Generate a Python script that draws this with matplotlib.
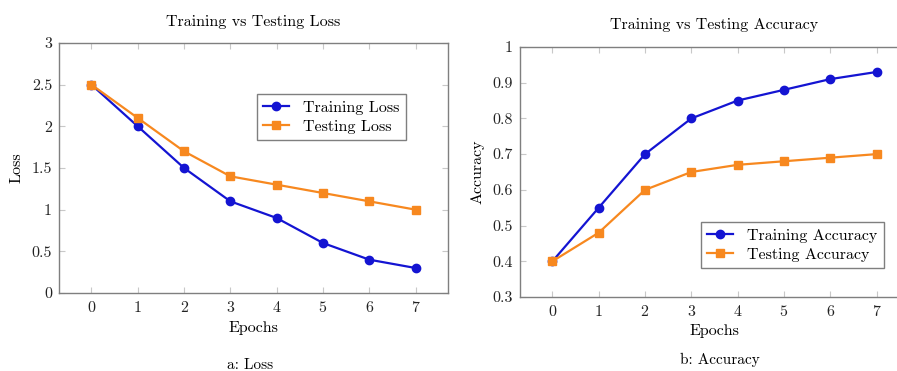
import matplotlib
matplotlib.use("Agg")
import matplotlib.pyplot as plt

epochs = [0, 1, 2, 3, 4, 5, 6, 7]
train_loss = [2.5, 2.0, 1.5, 1.1, 0.9, 0.6, 0.4, 0.3]
test_loss = [2.5, 2.1, 1.7, 1.4, 1.3, 1.2, 1.1, 1.0]
train_acc = [0.40, 0.55, 0.70, 0.80, 0.85, 0.88, 0.91, 0.93]
test_acc = [0.40, 0.48, 0.60, 0.65, 0.67, 0.68, 0.69, 0.70]

loss_ticks = [0, 0.5, 1, 1.5, 2, 2.5, 3]
loss_ticklabels = ["0", "0.5", "1", "1.5", "2", "2.5", "3"]
acc_ticks = [0.3, 0.4, 0.5, 0.6, 0.7, 0.8, 0.9, 1.0]
acc_ticklabels = ["0.3", "0.4", "0.5", "0.6", "0.7", "0.8", "0.9", "1"]

BLUE = "#1414d2"
ORANGE = "#f7881f"

plt.rcParams["font.family"] = ["cmr10", "DejaVu Serif"]
plt.rcParams["axes.formatter.use_mathtext"] = True
plt.rcParams["font.size"] = 11.5

fig = plt.figure(figsize=(8.97, 3.71), dpi=100)
ax1 = fig.add_axes([0.0658, 0.2102, 0.4337, 0.6739])
ax2 = fig.add_axes([0.5797, 0.1995, 0.4337, 0.6739])


def style_axes(ax):
    for s in ax.spines.values():
        s.set_color("#7f7f7f")
        s.set_linewidth(1.0)
    ax.tick_params(direction="in", length=4, width=0.8, color="#c8c8c8",
                   top=True, right=True, labelcolor="#222222", pad=5)
    ax.set_xticks(epochs)
    ax.set_xlim(-0.7, 7.7)


legend_opts = dict(loc="upper left", borderaxespad=0, fancybox=False,
                   edgecolor="#7f7f7f", framealpha=1, handlelength=1.6,
                   handletextpad=0.9, labelspacing=0.3, borderpad=0.4)

# loss panel
ax1.plot(epochs, train_loss, color=BLUE, lw=1.6, marker="o", ms=6,
         label="Training Loss")
ax1.plot(epochs, test_loss, color=ORANGE, lw=1.6, marker="s", ms=5.5,
         label="Testing Loss")
style_axes(ax1)
ax1.set_ylim(0, 3)
ax1.set_yticks(loss_ticks)
ax1.set_yticklabels(loss_ticklabels)
ax1.set_xlabel("Epochs", labelpad=4)
ax1.set_ylabel("Loss", labelpad=6)
ax1.set_title("Training vs Testing Loss", pad=12, fontsize=11.5)
ax1.legend(bbox_to_anchor=(0.509, 0.796), **legend_opts)

# accuracy panel
ax2.plot(epochs, train_acc, color=BLUE, lw=1.6, marker="o", ms=6,
         label="Training Accuracy")
ax2.plot(epochs, test_acc, color=ORANGE, lw=1.6, marker="s", ms=5.5,
         label="Testing Accuracy")
style_axes(ax2)
ax2.set_ylim(0.3, 1.0)
ax2.set_yticks(acc_ticks)
ax2.set_yticklabels(acc_ticklabels)
ax2.set_xlabel("Epochs", labelpad=4)
ax2.set_ylabel("Accuracy", labelpad=6)
ax2.set_title("Training vs Testing Accuracy", pad=13, fontsize=11.5)
ax2.legend(bbox_to_anchor=(0.465, 0.30), **legend_opts)

fig.text(250 / 897, 1 - 365 / 371, "a: Loss", ha="center", va="center", fontsize=11)
fig.text(720 / 897, 1 - 360 / 371, "b: Accuracy", ha="center", va="center", fontsize=11)

fig.savefig("out.png", dpi=100)
